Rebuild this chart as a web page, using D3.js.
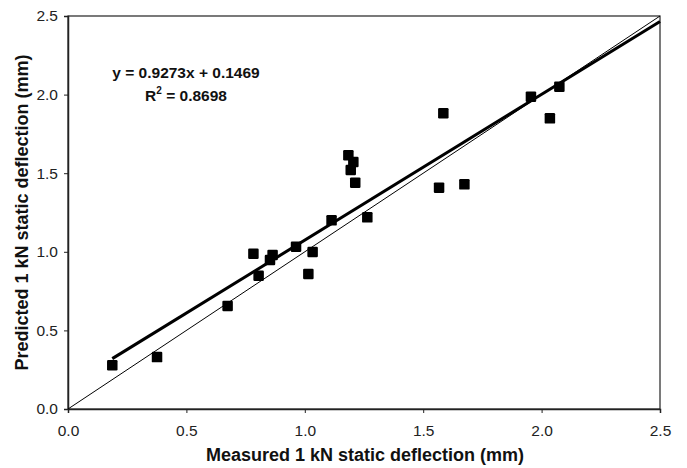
<!DOCTYPE html>
<html>
<head>
<meta charset="utf-8">
<script src="https://cdn.jsdelivr.net/npm/d3@7"></script>
<style>
  body { margin: 0; background: #fff; }
  text { font-family: "Liberation Sans", Arial, sans-serif; }
</style>
</head>
<body>
<svg id="chart" width="687" height="468"></svg>
<script>
// measured vs predicted 1 kN static deflection (mm)
var measured = [0.187, 0.376, 0.674, 0.783, 0.805, 0.853, 0.864, 0.963, 1.033, 1.015,
  1.113, 1.264, 1.184, 1.205, 1.194, 1.213, 1.585, 1.567, 1.674, 1.955, 2.075, 2.035];
var predicted = [0.278, 0.33, 0.655, 0.988, 0.848, 0.948, 0.98, 1.032, 0.999, 0.859,
  1.20, 1.219, 1.614, 1.571, 1.52, 1.44, 1.881, 1.408, 1.429, 1.987, 2.05, 1.849];
var ticks = [0, 0.5, 1.0, 1.5, 2.0, 2.5];
var slope = 0.9273, intercept = 0.1469, r2 = "0.8698";

var svg = d3.select("#chart");
var mLeft = 68, mRight = 660, mTop = 16, mBottom = 409;

var x = d3.scaleLinear().domain([0, 2.5]).range([mLeft, mRight]);
var y = d3.scaleLinear().domain([0, 2.5]).range([mBottom, mTop]);

// frame
svg.append("rect")
  .attr("x", mLeft).attr("y", mTop)
  .attr("width", mRight - mLeft).attr("height", mBottom - mTop)
  .attr("fill", "none").attr("stroke", "#222").attr("stroke-width", 1.2);

// axes
var xAxis = svg.append("g")
  .attr("transform", "translate(0," + mBottom + ")")
  .call(d3.axisBottom(x).tickValues(ticks).tickFormat(d3.format(".1f")).tickSize(4).tickPadding(12));
var yAxis = svg.append("g")
  .attr("transform", "translate(" + mLeft + ",0)")
  .call(d3.axisLeft(y).tickValues(ticks).tickFormat(d3.format(".1f")).tickSize(4).tickPadding(6));

[xAxis, yAxis].forEach(function (a) {
  a.select(".domain").attr("stroke", "#222").attr("stroke-width", 1.5);
  a.selectAll(".tick line").attr("stroke", "#222");
  a.selectAll(".tick text").attr("font-size", 15.5).attr("fill", "#222")
    .style("font-family", "'Liberation Sans', Arial, sans-serif");
});

// 1:1 line
svg.append("line")
  .attr("x1", x(0)).attr("y1", y(0))
  .attr("x2", x(2.5)).attr("y2", y(2.5))
  .attr("stroke", "#000").attr("stroke-width", 1);

// regression line
var x0 = d3.min(measured);
svg.append("line")
  .attr("x1", x(x0)).attr("y1", y(slope * x0 + intercept))
  .attr("x2", x(2.5)).attr("y2", y(slope * 2.5 + intercept))
  .attr("stroke", "#000").attr("stroke-width", 3);

// points
var s = 10.5;
svg.append("g").selectAll("rect")
  .data(measured)
  .enter().append("rect")
  .attr("x", function (d) { return x(d) - s / 2; })
  .attr("y", function (d, i) { return y(predicted[i]) - s / 2; })
  .attr("width", s).attr("height", s)
  .attr("rx", 1.2)
  .attr("fill", "#000");

// equation
var eq = svg.append("g").attr("font-weight", "bold").attr("font-size", 15.5).attr("fill", "#111");
eq.append("text").attr("x", 186).attr("y", 78).attr("text-anchor", "middle")
  .text("y = " + slope + "x + " + intercept);
var r = eq.append("text").attr("x", 186).attr("y", 101).attr("text-anchor", "middle");
r.append("tspan").text("R");
r.append("tspan").attr("dy", -7).attr("font-size", 10).text("2");
r.append("tspan").attr("dy", 7).text(" = " + r2);

// axis titles
svg.append("text")
  .attr("x", 365).attr("y", 461)
  .attr("text-anchor", "middle")
  .attr("font-weight", "bold").attr("font-size", 18).attr("fill", "#111")
  .text("Measured 1 kN static deflection (mm)");
svg.append("text")
  .attr("transform", "translate(28," + (mTop + mBottom) / 2 + ") rotate(-90)")
  .attr("text-anchor", "middle")
  .attr("font-weight", "bold").attr("font-size", 18).attr("fill", "#111")
  .text("Predicted 1 kN static deflection (mm)");
</script>
</body>
</html>
